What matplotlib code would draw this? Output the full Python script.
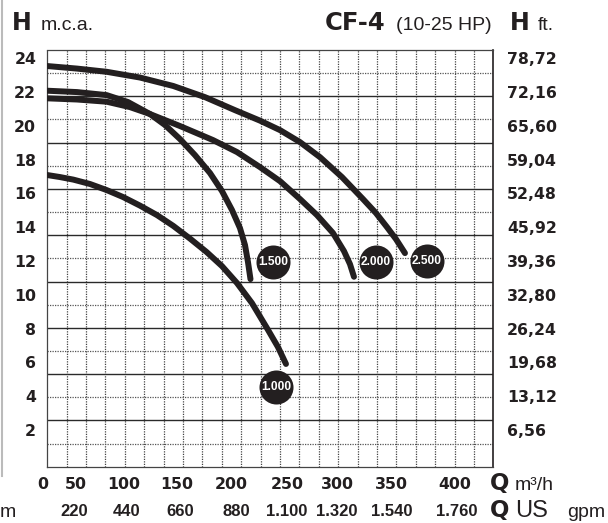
import numpy as np
import matplotlib
matplotlib.use("Agg")
import matplotlib.pyplot as plt

plt.rcParams['font.family'] = ['DejaVu Sans']
LIB = ['Liberation Sans', 'DejaVu Sans']

# pump curves, Q in m3/h, H in m.c.a.
q_1000 = [0, 12.47, 25.53, 41.92, 58.32, 74.32, 91.01, 107.70, 123.70, 140.09,
          156.49, 171.51, 186.24, 200.96, 215.69, 226.49, 234.34]
h_1000 = [17.09, 16.97, 16.82, 16.56, 16.20, 15.79, 15.28, 14.72, 14.08, 13.33,
          12.53, 11.70, 10.70, 9.51, 8.03, 6.91, 5.91]

q_1500 = [0, 29.16, 58.32, 79.23, 100.82, 115.55, 130.28, 145.00, 159.73, 171.51,
          181.33, 189.18, 194.09, 197.03, 199.49]
h_1500 = [22.08, 22.00, 21.82, 21.41, 20.70, 20.05, 19.22, 18.27, 17.21, 16.14,
          15.02, 13.95, 12.95, 11.94, 10.93]

q_2000 = [0, 29.16, 58.32, 81.19, 100.82, 130.28, 162.67, 186.24, 208.82, 228.45,
          248.09, 264.78, 280.48, 291.28, 297.17, 301.10]
h_2000 = [21.63, 21.56, 21.43, 21.11, 20.70, 19.99, 19.16, 18.45, 17.56, 16.73,
          15.67, 14.72, 13.66, 12.59, 11.82, 11.07]

q_2500 = [0, 29.16, 58.32, 91.01, 123.70, 154.82, 184.27, 208.82, 228.45, 248.09,
          267.72, 289.32, 309.94, 322.70, 333.50, 342.33, 351.17]
h_2500 = [23.54, 23.39, 23.20, 22.86, 22.36, 21.70, 20.93, 20.31, 19.75, 19.04,
          18.15, 16.97, 15.67, 14.84, 14.01, 13.30, 12.47]

curves = [(q_1000, h_1000), (q_1500, h_1500), (q_2000, h_2000), (q_2500, h_2500)]

# badges with the model names
badge_text = ['1.000', '1.500', '2.000', '2.500']
badge_q = [224.5, 221.9, 322.7, 372.5]
badge_h = [4.56, 11.96, 11.96, 12.02]

# axis labels
h_ticks = [2, 4, 6, 8, 10, 12, 14, 16, 18, 20, 22, 24]
ft_labels = ['6,56', '13,12', '19,68', '26,24', '32,80', '39,36', '45,92',
             '52,48', '59,04', '65,60', '72,16', '78,72']
q_labels = ['0', '50', '100', '150', '200', '250', '300', '350', '400']
q_label_pos = [-4.5, 28.2, 75.3, 127.0, 181.0, 235.6, 284.7, 337.4, 400]
gpm_labels = ['220', '440', '660', '880', '1.100', '1.320', '1.540', '1.760']
gpm_label_pos = [26.2, 78.0, 130.3, 185.9, 235.0, 284.1, 338.4, 401.9]

q_lim = (0, 437.9)
h_lim = (-0.17, 24.49)

ink = '#231f20'
W, H = 608, 523

fig = plt.figure(figsize=(W / 100, H / 100), dpi=100)
ax = fig.add_axes([47.3 / W, 1 - 466.7 / H, 446 / W, 416.7 / H])
ax.set_xlim(q_lim)
ax.set_ylim(h_lim)

# grid: 23 columns, 18 rows, alternating dotted / solid rows
for x in np.linspace(q_lim[0], q_lim[1], 24)[1:-1]:
    ax.axvline(x, color='#444444', lw=0.9, ls=(0, (1, 1)), zorder=1)
for j, y in enumerate(np.linspace(h_lim[0], h_lim[1], 19)):
    if j == 0 or j == 18:
        continue
    if j % 2 == 0:
        ax.axhline(y, color='#2a2a2a', lw=1.0, zorder=1)
    else:
        ax.axhline(y, color='#555555', lw=0.9, ls=(0, (1, 1)), zorder=1)

for s in ['left', 'top', 'bottom']:
    ax.spines[s].set_linestyle((0, (1, 1)))
    ax.spines[s].set_color('#444444')
    ax.spines[s].set_linewidth(0.9)
ax.spines['right'].set_color(ink)
ax.spines['right'].set_linewidth(1.2)

for q, h in curves:
    ax.plot(q, h, color=ink, lw=4.3, solid_capstyle='round',
            solid_joinstyle='round', zorder=3)

ax.scatter(badge_q, badge_h, s=600, color=ink, zorder=4, linewidths=0)
for t, q, h in zip(badge_text, badge_q, badge_h):
    ax.text(q, h, t, color='white', fontsize=8.6, fontweight='bold', family=LIB,
            ha='center', va='center', zorder=5)

ax.set_yticks(h_ticks)
ax.set_yticklabels([str(v) for v in h_ticks], fontsize=11.3, fontweight='bold', color=ink)
ax.tick_params(axis='y', length=0, pad=8)
ax.set_xticks([])

ax2 = ax.twinx()
ax2.set_ylim(h_lim)
ax2.set_yticks(h_ticks)
ax2.set_yticklabels(ft_labels, fontsize=11.3, fontweight='bold', color=ink)
ax2.tick_params(axis='y', length=0, pad=10)
for s in ax2.spines.values():
    s.set_visible(False)

tr = ax.get_xaxis_transform()
for t, x in zip(q_labels, q_label_pos):
    ax.text(x, -0.042, t, transform=tr, ha='center', va='center',
            fontsize=11.3, fontweight='bold', color=ink)
for t, x in zip(gpm_labels, gpm_label_pos):
    ax.text(x, -0.107, t, transform=tr, ha='center', va='center',
            fontsize=12, fontweight='bold', family=LIB, color=ink)


def fx(px):
    return px / W


def fy(py):
    return 1 - py / H


# header
fig.text(fx(12), fy(30.5), 'H', fontsize=17, fontweight='bold', color=ink, va='baseline')
fig.text(fx(41), fy(30), 'm.c.a.', fontsize=14, family=LIB, color=ink, va='baseline')
fig.text(fx(325), fy(30.5), 'CF-4', fontsize=17.5, fontweight='bold', color=ink, va='baseline')
fig.text(fx(396), fy(30), '(10-25 HP)', fontsize=14, family=LIB, color=ink, va='baseline')
fig.text(fx(510), fy(30.5), 'H', fontsize=17, fontweight='bold', color=ink, va='baseline')
fig.text(fx(538), fy(30), 'ft.', fontsize=14, family=LIB, color=ink, va='baseline')

# axis units at bottom right
fig.text(fx(490), fy(490), 'Q', fontsize=16.5, fontweight='bold', color=ink, va='baseline')
fig.text(fx(515), fy(490), 'm³/h', fontsize=14, family=LIB, color=ink, va='baseline')
fig.text(fx(490), fy(517), 'Q', fontsize=16.5, fontweight='bold', color=ink, va='baseline')
fig.text(fx(515), fy(517), 'US', fontsize=17, family=LIB, color=ink, va='baseline')
fig.text(fx(567), fy(517), 'gpm', fontsize=14, family=LIB, color=ink, va='baseline')

# text and frame edge from the neighbouring chart
fig.text(fx(0), fy(517), 'm', fontsize=14, family=LIB, color=ink, va='baseline')
fig.add_artist(plt.Line2D([fx(2), fx(2)], [fy(0), fy(476)], color='#bbbbbb', lw=1.5))

fig.savefig('out.png', dpi=100)
